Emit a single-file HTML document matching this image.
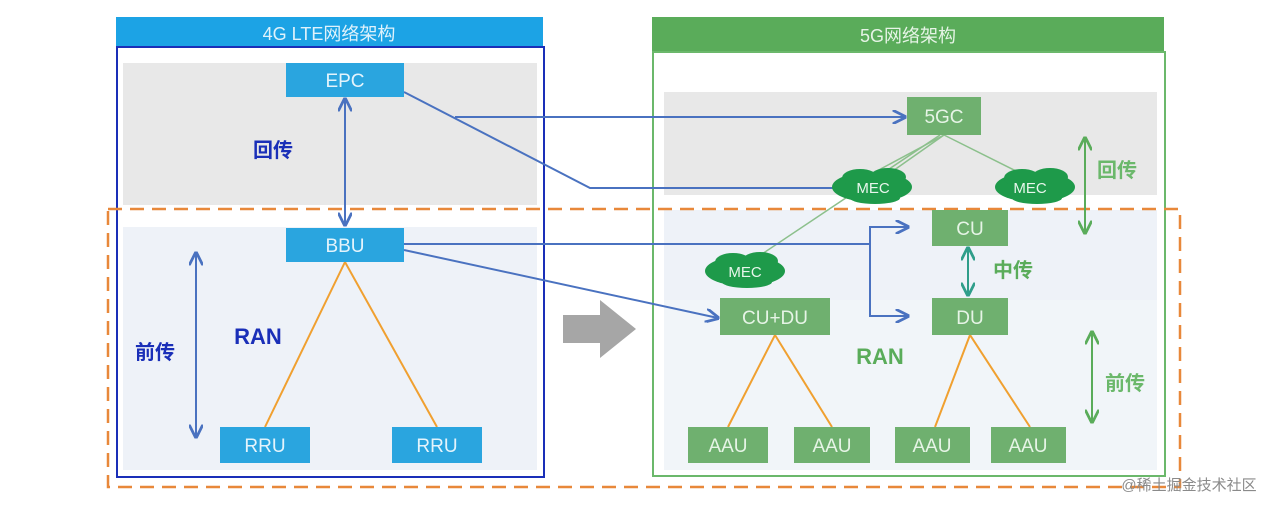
<!DOCTYPE html>
<html><head><meta charset="utf-8"><style>
body{margin:0;background:#fff;}
svg text{font-family:"Liberation Sans","Noto Sans CJK SC",sans-serif;}
</style></head><body>
<svg width="1285" height="510" viewBox="0 0 1285 510" xmlns="http://www.w3.org/2000/svg">
<defs>
<marker id="ab" viewBox="0 0 10 10" refX="9" refY="5" markerWidth="7" markerHeight="7" orient="auto-start-reverse"><path d="M0,0 L10,5 L0,10" fill="none" stroke="#4a72c0" stroke-width="2"/></marker>
<marker id="ag" viewBox="0 0 10 10" refX="9" refY="5" markerWidth="7" markerHeight="7" orient="auto-start-reverse"><path d="M0,0 L10,5 L0,10" fill="none" stroke="#5aac5a" stroke-width="2"/></marker>
<marker id="at" viewBox="0 0 10 10" refX="9" refY="5" markerWidth="7" markerHeight="7" orient="auto-start-reverse"><path d="M0,0 L10,5 L0,10" fill="none" stroke="#2f9e8a" stroke-width="2"/></marker>
</defs>
<rect x="116" y="17" width="427" height="30" fill="#1ca3e5"/>
<text x="329" y="40" font-size="18" fill="#dff2fb" text-anchor="middle">4G LTE网络架构</text>
<rect x="123" y="63" width="414" height="142" fill="#e8e8e8"/>
<rect x="123" y="227" width="414" height="243" fill="#eef2f8"/>
<rect x="117" y="47" width="427" height="430" fill="none" stroke="#1a2fb8" stroke-width="2"/>
<rect x="652" y="17" width="512" height="36" fill="#5aac5a"/>
<text x="908" y="42" font-size="18" fill="#e6f4e6" text-anchor="middle">5G网络架构</text>
<rect x="664" y="92" width="493" height="103" fill="#e8e8e8"/>
<rect x="664" y="210" width="493" height="90" fill="#eef2f8"/>
<rect x="664" y="300" width="493" height="170" fill="#f1f5f9"/>
<rect x="653" y="52" width="512" height="424" fill="none" stroke="#6bb86b" stroke-width="2"/>
<rect x="108" y="209" width="1072" height="278" fill="none" stroke="#e8883a" stroke-width="2.5" stroke-dasharray="14,8"/>
<path d="M563,315 L600,315 L600,300 L636,329 L600,358 L600,343 L563,343 Z" fill="#a6a6a6"/>
<g stroke="#f0a030" stroke-width="2" fill="none">
<path d="M265,427 L345,262 L437,427"/>
<path d="M728,427 L775,335 L832,427"/>
<path d="M935,427 L970,335 L1030,427"/>
</g>
<g stroke="#8cc08c" stroke-width="1.5" fill="none">
<path d="M944,135 L860,180"/><path d="M944,135 L880,180"/><path d="M944,135 L1030,178"/><path d="M940,135 L750,262"/>
</g>
<g stroke="#4a72c0" stroke-width="2" fill="none">
<path d="M404,92 L590,188 L857,188" marker-end="url(#ab)"/>
<path d="M455,117 L905,117" marker-end="url(#ab)"/>
<path d="M404,244 L870,244"/>
<path d="M870,316 L870,227 L908,227" marker-end="url(#ab)"/>
<path d="M870,300 L870,316 L908,316" marker-end="url(#ab)"/>
<path d="M404,250 L718,318" marker-end="url(#ab)"/>
<path d="M345,99 L345,225" marker-start="url(#ab)" marker-end="url(#ab)"/>
<path d="M196,253 L196,437" marker-start="url(#ab)" marker-end="url(#ab)"/>
</g>
<g stroke="#5aac5a" stroke-width="2" fill="none">
<path d="M1085,138 L1085,233" marker-start="url(#ag)" marker-end="url(#ag)"/>
<path d="M1092,332 L1092,422" marker-start="url(#ag)" marker-end="url(#ag)"/>
</g>
<path d="M968,248 L968,295" stroke="#2f9e8a" stroke-width="2" marker-start="url(#at)" marker-end="url(#at)"/>
<g fill="#2aa5df">
<rect x="286" y="63" width="118" height="34"/><rect x="286" y="228" width="118" height="34"/>
<rect x="220" y="427" width="90" height="36"/><rect x="392" y="427" width="90" height="36"/>
</g>
<g font-size="19" fill="#e4f4fc" text-anchor="middle">
<text x="345" y="87">EPC</text><text x="345" y="252">BBU</text>
<text x="265" y="452">RRU</text><text x="437" y="452">RRU</text>
</g>
<g fill="#6fb06f">
<rect x="907" y="97" width="74" height="38"/><rect x="932" y="210" width="76" height="36"/>
<rect x="932" y="298" width="76" height="37"/><rect x="720" y="298" width="110" height="37"/>
<rect x="688" y="427" width="80" height="36"/><rect x="794" y="427" width="76" height="36"/>
<rect x="895" y="427" width="75" height="36"/><rect x="991" y="427" width="75" height="36"/>
</g>
<g font-size="19" fill="#e6f4e6" text-anchor="middle">
<text x="944" y="123">5GC</text><text x="970" y="235">CU</text><text x="970" y="324">DU</text>
<text x="775" y="324">CU+DU</text>
<text x="728" y="452">AAU</text><text x="832" y="452">AAU</text><text x="932" y="452">AAU</text><text x="1028" y="452">AAU</text>
</g>
<g fill="#1e9a4a">
<ellipse cx="872" cy="187" rx="40" ry="15"/><ellipse cx="860" cy="178" rx="18" ry="9"/><ellipse cx="888" cy="177" rx="18" ry="9"/><ellipse cx="875" cy="198" rx="25" ry="6"/>
<ellipse cx="1035" cy="187" rx="40" ry="15"/><ellipse cx="1022" cy="178" rx="18" ry="9"/><ellipse cx="1050" cy="177" rx="18" ry="9"/><ellipse cx="1037" cy="198" rx="25" ry="6"/>
<ellipse cx="745" cy="271" rx="40" ry="15"/><ellipse cx="733" cy="262" rx="18" ry="9"/><ellipse cx="760" cy="261" rx="18" ry="9"/><ellipse cx="747" cy="282" rx="25" ry="6"/>
</g>
<g font-size="15" fill="#e8f6ec" text-anchor="middle">
<text x="873" y="193">MEC</text><text x="1030" y="193">MEC</text><text x="745" y="277">MEC</text>
</g>
<g font-weight="bold" font-size="20">
<text x="273" y="157" fill="#1a2fb8" text-anchor="middle">回传</text>
<text x="155" y="359" fill="#1a2fb8" text-anchor="middle">前传</text>
<text x="258" y="344" fill="#1a2fb8" text-anchor="middle" font-size="22">RAN</text>
<text x="1117" y="177" fill="#6bb86b" text-anchor="middle">回传</text>
<text x="1013" y="277" fill="#5aac5a" text-anchor="middle">中传</text>
<text x="880" y="364" fill="#5aac5a" text-anchor="middle" font-size="22">RAN</text>
<text x="1125" y="390" fill="#6bb86b" text-anchor="middle">前传</text>
</g>
<text x="1189" y="490" font-size="15" fill="#8a8a8a" text-anchor="middle">@稀土掘金技术社区</text>
</svg>
</body></html>
